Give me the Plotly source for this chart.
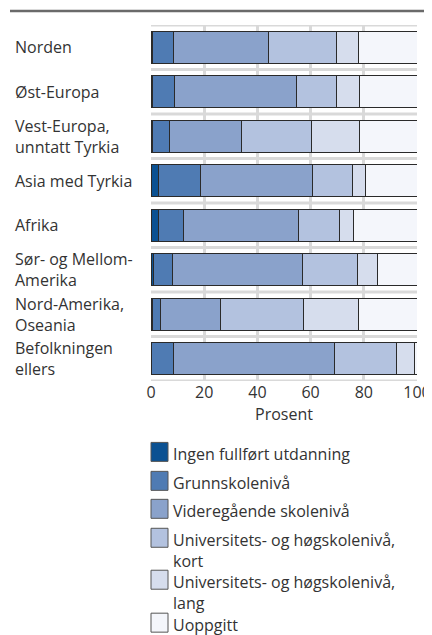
import plotly.graph_objects as go

# ---------------- data ----------------
categories = ["Norden", "Øst-Europa", "Vest-Europa, unntatt Tyrkia", "Asia med Tyrkia",
              "Afrika", "Sør- og Mellom-Amerika", "Nord-Amerika, Oseania", "Befolkningen ellers"]
category_labels = ["Norden", "Øst-Europa", "Vest-Europa,<br>unntatt Tyrkia", "Asia med Tyrkia",
                   "Afrika", "Sør- og Mellom-<br>Amerika", "Nord-Amerika,<br>Oseania",
                   "Befolkningen<br>ellers"]

series_names = ["Ingen fullført utdanning", "Grunnskolenivå", "Videregående skolenivå",
                "Universitets- og høgskolenivå, kort", "Universitets- og høgskolenivå, lang",
                "Uoppgitt"]
legend_labels = ["Ingen fullført utdanning", "Grunnskolenivå", "Videregående skolenivå",
                 "Universitets- og høgskolenivå,<br>kort",
                 "Universitets- og høgskolenivå,<br>lang", "Uoppgitt"]

ingen = [0.5, 0.5, 0.4, 2.8, 3.0, 0.9, 0.5, 0.2]
grunn = [7.9, 8.2, 6.5, 15.8, 9.3, 7.1, 3.0, 8.3]
videre = [35.6, 46.0, 27.1, 42.0, 43.1, 49.1, 22.5, 60.4]
uni_kort = [25.6, 15.2, 26.3, 15.0, 15.3, 20.5, 31.3, 23.4]
uni_lang = [8.4, 8.3, 18.1, 5.0, 5.3, 7.7, 20.7, 6.8]
uoppgitt = [22.0, 21.8, 21.6, 19.4, 24.0, 14.7, 22.0, 0.9]
series_values = [ingen, grunn, videre, uni_kort, uni_lang, uoppgitt]

colors = ["#0b5192", "#4f7bb3", "#8aa2cb", "#b3c2df", "#d6dded", "#f4f6fb"]

x_ticks = [0, 20, 40, 60, 80, 100]
x_title = "Prosent"

# ---------------- layout geometry (page pixels) ----------------
OFF = 8                      # default body margin of the html page
W, H = 432 - OFF, 635 - OFF
PL, PR, PT, PB = 151, 417, 25, 381.5
FONT = "Open Sans"
TXT = "#333333"
FS = 16


def px_x(px):
    return (px - PL) / (PR - PL)


def px_y(py):
    return (PB - py) / (PB - PT)


fig = go.Figure()
ypos = list(range(len(categories)))
for name, vals, col in zip(series_names, series_values, colors):
    fig.add_trace(go.Bar(
        x=vals, y=ypos, orientation="h", name=name,
        marker=dict(color=col, line=dict(color="#2a2a2a", width=1)),
        showlegend=False, hoverinfo="x+name"))

shapes = []
# horizontal grid lines at category boundaries
for k in range(len(categories) + 1):
    shapes.append(dict(type="line", xref="x", yref="y", x0=0, x1=100,
                       y0=k - 0.5, y1=k - 0.5, layer="below",
                       line=dict(color="#d9d9d9", width=3)))
# top rule
shapes.append(dict(type="line", xref="paper", yref="paper",
                   x0=px_x(10), x1=px_x(430), y0=px_y(11), y1=px_y(11),
                   line=dict(color="#6a6a6a", width=2.5)))

annotations = []
for k, lab in enumerate(category_labels):
    annotations.append(dict(text=lab, xref="paper", yref="y", x=px_x(13), y=k,
                            xanchor="left", yanchor="middle", align="left", showarrow=False,
                            font=dict(family=FONT, size=FS, color=TXT)))

# manual legend
sw_tops = [443, 472, 500, 529, 571, 614]
for top, lab, col in zip(sw_tops, legend_labels, colors):
    shapes.append(dict(type="rect", xref="paper", yref="paper",
                       x0=px_x(151), x1=px_x(168), y0=px_y(top), y1=px_y(top + 19),
                       fillcolor=col, line=dict(color="#555555", width=1)))
    annotations.append(dict(text=lab, xref="paper", yref="paper", x=px_x(171),
                            y=px_y(top - 1), xanchor="left", yanchor="top", align="left",
                            showarrow=False, font=dict(family=FONT, size=FS, color=TXT)))

fig.update_layout(
    width=W, height=H,
    margin=dict(l=PL - OFF, r=432 - PR, t=PT - OFF, b=635 - PB, pad=0, autoexpand=False),
    barmode="stack", bargap=0.28,
    plot_bgcolor="white", paper_bgcolor="white",
    font=dict(family=FONT, size=FS, color=TXT),
    xaxis=dict(range=[0, 100], tickvals=x_ticks, showgrid=True, gridcolor="#d9d9d9",
               gridwidth=3, zeroline=False, showline=False, ticks="", fixedrange=True,
               automargin=False,
               title=dict(text=x_title, font=dict(family=FONT, size=FS, color=TXT), standoff=0),
               tickfont=dict(family=FONT, size=FS, color=TXT)),
    yaxis=dict(range=[len(categories) - 0.5, -0.5], showgrid=False, zeroline=False,
               showticklabels=False, ticks="", fixedrange=True, automargin=False),
    shapes=shapes, annotations=annotations,
)

fig.write_html("out.html")
